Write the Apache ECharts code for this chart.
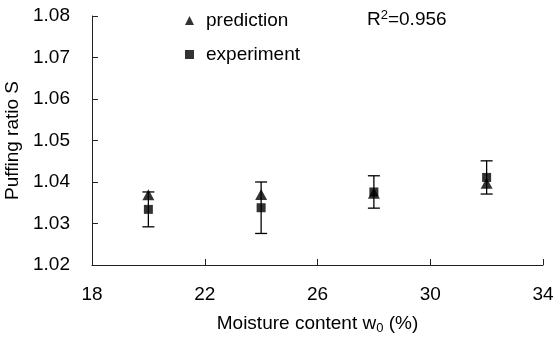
<!DOCTYPE html>
<html>
<head>
<meta charset="utf-8">
<script src="https://cdn.jsdelivr.net/npm/echarts@6/dist/echarts.min.js"></script>
<style>
  html, body { margin: 0; padding: 0; background: #fff; }
  #chart { width: 555px; height: 338px; }
</style>
</head>
<body>
<div id="chart"></div>
<script>
// moisture content w0 (%)
const moisture = [20, 24, 28, 32]
const prediction = [1.0369, 1.0370, 1.0373, 1.0397]
const experiment = [1.0334, 1.0338, 1.0376, 1.0411]
const expError = [0.0042, 0.0062, 0.0039, 0.0040]
const xTicks = [18, 22, 26, 30, 34]
const yTicks = [1.02, 1.03, 1.04, 1.05, 1.06, 1.07, 1.08]

const chart = echarts.init(document.getElementById('chart'))
const font = 'Liberation Sans, Arial, sans-serif'

const errData = moisture.map((x, i) => [x, experiment[i] - expError[i], experiment[i] + expError[i]])

const option = {
  animation: false,
  textStyle: { fontFamily: font },
  grid: { left: 92, right: 12, top: 16, bottom: 73, outerBoundsMode: 'none' },
  legend: {
    orient: 'vertical',
    left: 180,
    top: 6,
    itemWidth: 9,
    itemHeight: 9,
    itemGap: 15,
    textStyle: { fontFamily: font, fontSize: 19, color: '#000', padding: [0, 0, 0, 7] },
    data: [
      { name: 'prediction', icon: 'triangle' },
      { name: 'experiment', icon: 'rect' }
    ]
  },
  graphic: [{
    type: 'text',
    left: 367,
    top: 9,
    style: {
      text: 'R{sup|2}=0.956',
      fontFamily: font,
      fontSize: 19,
      fill: '#000',
      rich: {
        sup: { fontSize: 13, verticalAlign: 'top', padding: [0, 0, 9, 0] }
      }
    }
  }],
  xAxis: {
    type: 'value',
    min: xTicks[0],
    max: xTicks[xTicks.length - 1],
    interval: 4,
    name: 'Moisture content w{sub|0} (%)',
    nameLocation: 'middle',
    nameGap: 48,
    nameTextStyle: {
      fontFamily: font, fontSize: 19, color: '#000',
      rich: { sub: { fontSize: 13, padding: [9, 0, 0, 0] } }
    },
    axisLine: { lineStyle: { color: '#222', width: 1 } },
    axisTick: { inside: true, length: 6, lineStyle: { color: '#222' } },
    axisLabel: { fontFamily: font, fontSize: 19, color: '#000', margin: 20 },
    splitLine: { show: false }
  },
  yAxis: {
    type: 'value',
    min: yTicks[0],
    max: yTicks[yTicks.length - 1],
    interval: 0.01,
    name: 'Puffing ratio S',
    nameLocation: 'middle',
    nameGap: 65,
    nameTextStyle: { fontFamily: font, fontSize: 19, color: '#000' },
    axisLine: { show: true, lineStyle: { color: '#222', width: 1 } },
    axisTick: { show: true, inside: true, length: 6, lineStyle: { color: '#222' } },
    axisLabel: {
      fontFamily: font, fontSize: 19, color: '#000', margin: 22,
      formatter: v => v.toFixed(2)
    },
    splitLine: { show: false }
  },
  series: [
    {
      name: 'experiment-error',
      type: 'custom',
      silent: true,
      data: errData,
      encode: { x: 0, y: [1, 2] },
      renderItem: (params, api) => {
        const x = api.value(0)
        const lo = api.coord([x, api.value(1)])
        const hi = api.coord([x, api.value(2)])
        const w = 6
        const st = { stroke: '#000', lineWidth: 1.3 }
        return {
          type: 'group',
          children: [
            { type: 'line', shape: { x1: lo[0], y1: lo[1], x2: hi[0], y2: hi[1] }, style: st },
            { type: 'line', shape: { x1: lo[0] - w, y1: lo[1], x2: lo[0] + w, y2: lo[1] }, style: st },
            { type: 'line', shape: { x1: hi[0] - w, y1: hi[1], x2: hi[0] + w, y2: hi[1] }, style: st }
          ]
        }
      },
      z: 1
    },
    {
      name: 'prediction',
      type: 'scatter',
      symbol: 'triangle',
      symbolSize: [12, 11],
      itemStyle: { color: '#000' },
      data: moisture.map((x, i) => [x, prediction[i]]),
      z: 2
    },
    {
      name: 'experiment',
      type: 'scatter',
      symbol: 'rect',
      symbolSize: 9,
      itemStyle: { color: '#000' },
      data: moisture.map((x, i) => [x, experiment[i]]),
      z: 3
    }
  ]
}

chart.setOption(option)
</script>
</body>
</html>
